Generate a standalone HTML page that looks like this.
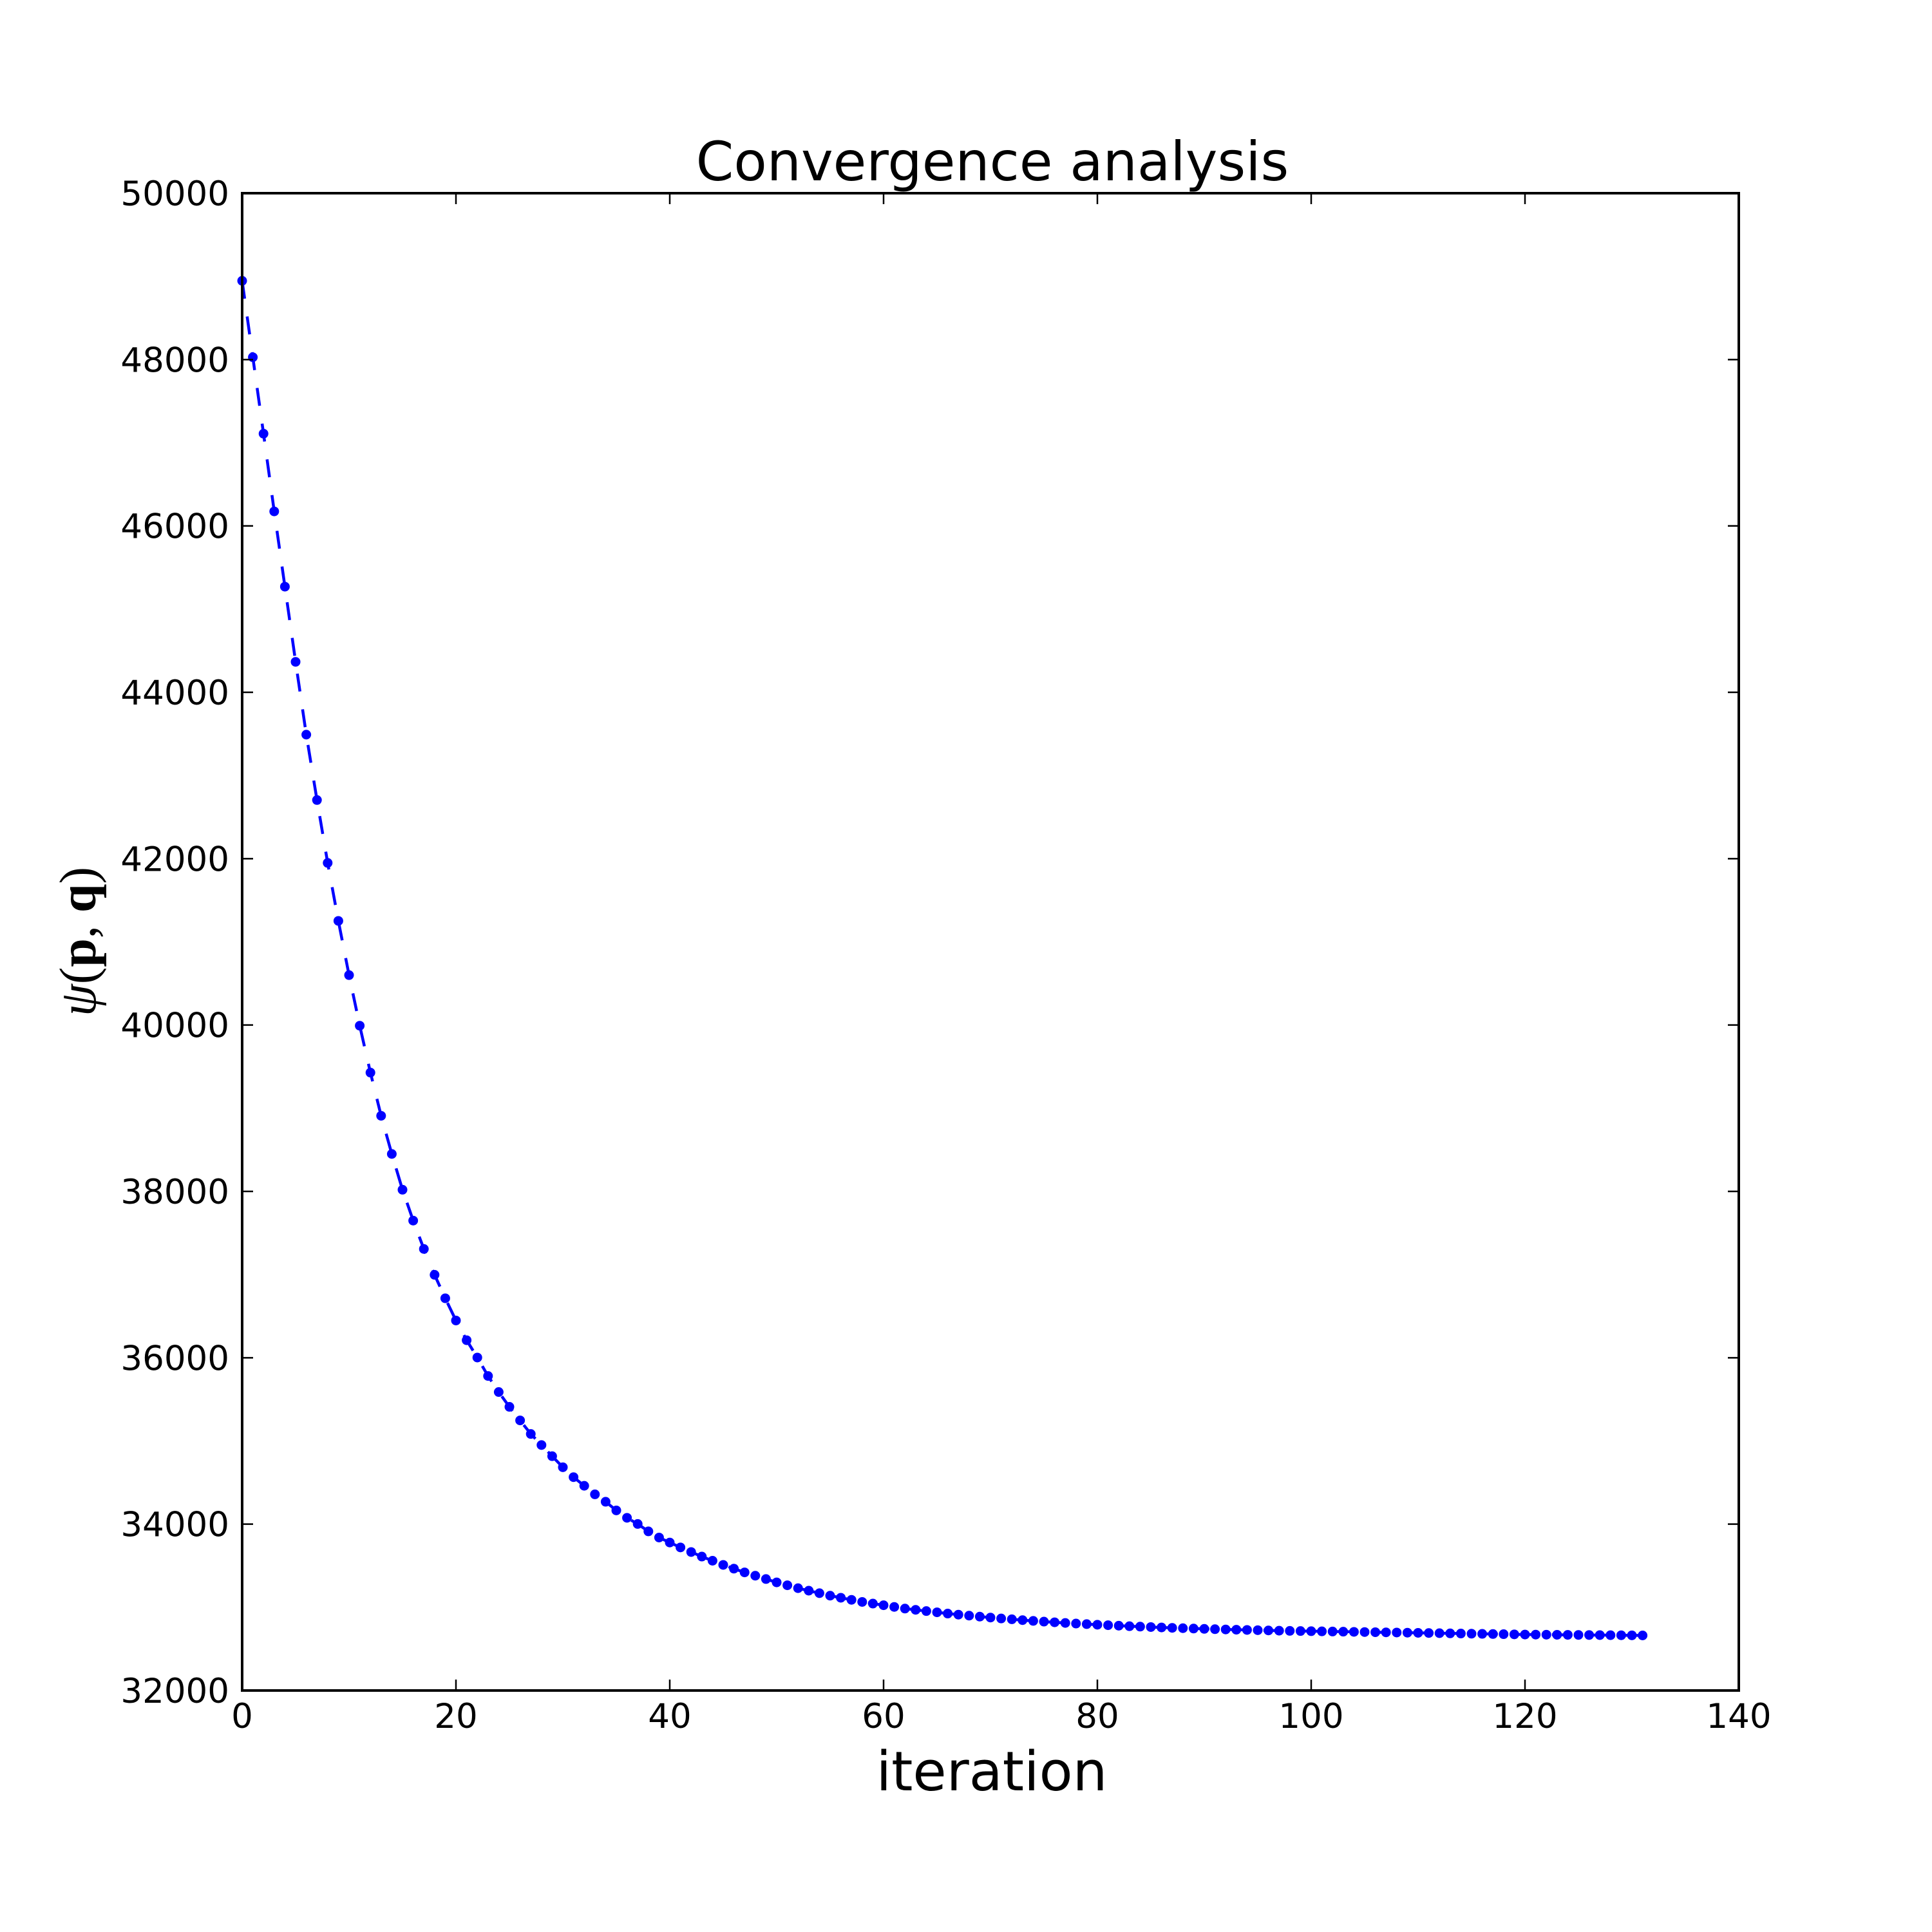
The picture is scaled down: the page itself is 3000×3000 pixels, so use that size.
<!DOCTYPE html>
<html>
<head>
<meta charset="utf-8">
<style>
html,body{margin:0;padding:0;background:#fff;}
svg{display:block;}
</style>
</head>
<body>
<svg id="chart" width="3000" height="3000" viewBox="0 0 3000 3000" xmlns="http://www.w3.org/2000/svg">
  <rect x="0" y="0" width="3000" height="3000" fill="#fff"/>
  <text x="1541" y="280" text-anchor="middle" font-family="DejaVu Sans, Liberation Sans, sans-serif" font-size="84">Convergence analysis</text>
  <text x="1540" y="2780" text-anchor="middle" font-family="DejaVu Sans, Liberation Sans, sans-serif" font-size="85">iteration</text>
  <text transform="translate(148,1462) rotate(-90)" text-anchor="middle" font-family="Liberation Serif, DejaVu Serif, serif" font-size="80"><tspan font-style="italic">ψ</tspan>(<tspan font-weight="bold">p</tspan>, <tspan font-weight="bold">q</tspan>)</text>
  <g id="plot"></g>
  <g id="axes"></g>
</svg>
<script>
const iterations = [];
const psiValues = [48947,48028,47109,46175,45270,44366,43491,42705,41949,41252,
40600,39992,39428,38909,38450,38020,37649,37308,36997,36715,
36448,36211,36003,35781,35588,35410,35247,35084,34951,34817,
34684,34565,34461,34358,34269,34165,34076,34002,33913,33839,
33779,33720,33665,33610,33560,33510,33465,33420,33380,33340,
33300,33265,33230,33200,33170,33140,33115,33090,33065,33045,
33025,33005,32985,32970,32955,32940,32925,32912,32900,32888,
32877,32866,32856,32846,32837,32828,32820,32812,32805,32798,
32791,32785,32779,32773,32768,32763,32758,32753,32749,32745,
32741,32737,32734,32731,32728,32725,32722,32719,32717,32715,
32713,32711,32709,32707,32705,32703,32701,32699,32697,32695,
32693,32691,32689,32687,32685,32683,32681,32679,32677,32675,
32673,32672,32671,32670,32669,32668,32667,32666,32665,32664,32663,32662];
for (let i = 0; i < psiValues.length; i++) iterations.push(i);
const xTicks = [0,20,40,60,80,100,120,140];
const yTicks = [32000,34000,36000,38000,40000,42000,44000,46000,48000,50000];

const L = 376, R = 2700, T = 300, B = 2625;
const xMin = 0, xMax = 140, yMin = 32000, yMax = 50000;
function xs(v){ return L + (v - xMin) / (xMax - xMin) * (R - L); }
function ys(v){ return B - (v - yMin) / (yMax - yMin) * (B - T); }

const NS = 'http://www.w3.org/2000/svg';
const plot = document.getElementById('plot');
const axes = document.getElementById('axes');

let d = '';
iterations.forEach((it, i) => { d += (i ? 'L' : 'M') + xs(it).toFixed(2) + ' ' + ys(psiValues[i]).toFixed(2); });
const line = document.createElementNS(NS, 'path');
line.setAttribute('d', d);
line.setAttribute('fill', 'none');
line.setAttribute('stroke', '#0000ff');
line.setAttribute('stroke-width', '4.5');
line.setAttribute('stroke-dasharray', '28 28');


plot.appendChild(line);

iterations.forEach((it, i) => {
  const c = document.createElementNS(NS, 'circle');
  c.setAttribute('cx', xs(it));
  c.setAttribute('cy', ys(psiValues[i]));
  c.setAttribute('r', '7.5');
  c.setAttribute('fill', '#0000ff');
  
  
  plot.appendChild(c);
});

const frame = document.createElementNS(NS, 'rect');
frame.setAttribute('x', L); frame.setAttribute('y', T);
frame.setAttribute('width', R - L); frame.setAttribute('height', B - T);
frame.setAttribute('fill', 'none'); frame.setAttribute('stroke', '#000'); frame.setAttribute('stroke-width', '4');


axes.appendChild(frame);

function mkLine(x1,y1,x2,y2,name){
  const l = document.createElementNS(NS, 'line');
  l.setAttribute('x1', x1); l.setAttribute('y1', y1); l.setAttribute('x2', x2); l.setAttribute('y2', y2);
  l.setAttribute('stroke', '#000'); l.setAttribute('stroke-width', '2.5');
  
  
  axes.appendChild(l);
}
function mkText(x,y,s,anchor,name){
  const t = document.createElementNS(NS, 'text');
  t.setAttribute('x', x); t.setAttribute('y', y);
  t.setAttribute('text-anchor', anchor);
  t.setAttribute('font-family', 'DejaVu Sans, Liberation Sans, sans-serif');
  t.setAttribute('font-size', '53');
  t.textContent = s;
  
  
  axes.appendChild(t);
}
xTicks.forEach(v => {
  const x = xs(v);
  mkLine(x, B, x, B - 17, 'x-tick');
  mkLine(x, T, x, T + 17, 'x-tick-top');
  mkText(x, 2683, String(v), 'middle', 'x-tick-label');
});
yTicks.forEach(v => {
  const y = ys(v);
  mkLine(L, y, L + 17, y, 'y-tick');
  mkLine(R, y, R - 17, y, 'y-tick-right');
  mkText(356, y + 19, String(v), 'end', 'y-tick-label');
});
</script>
</body>
</html>
